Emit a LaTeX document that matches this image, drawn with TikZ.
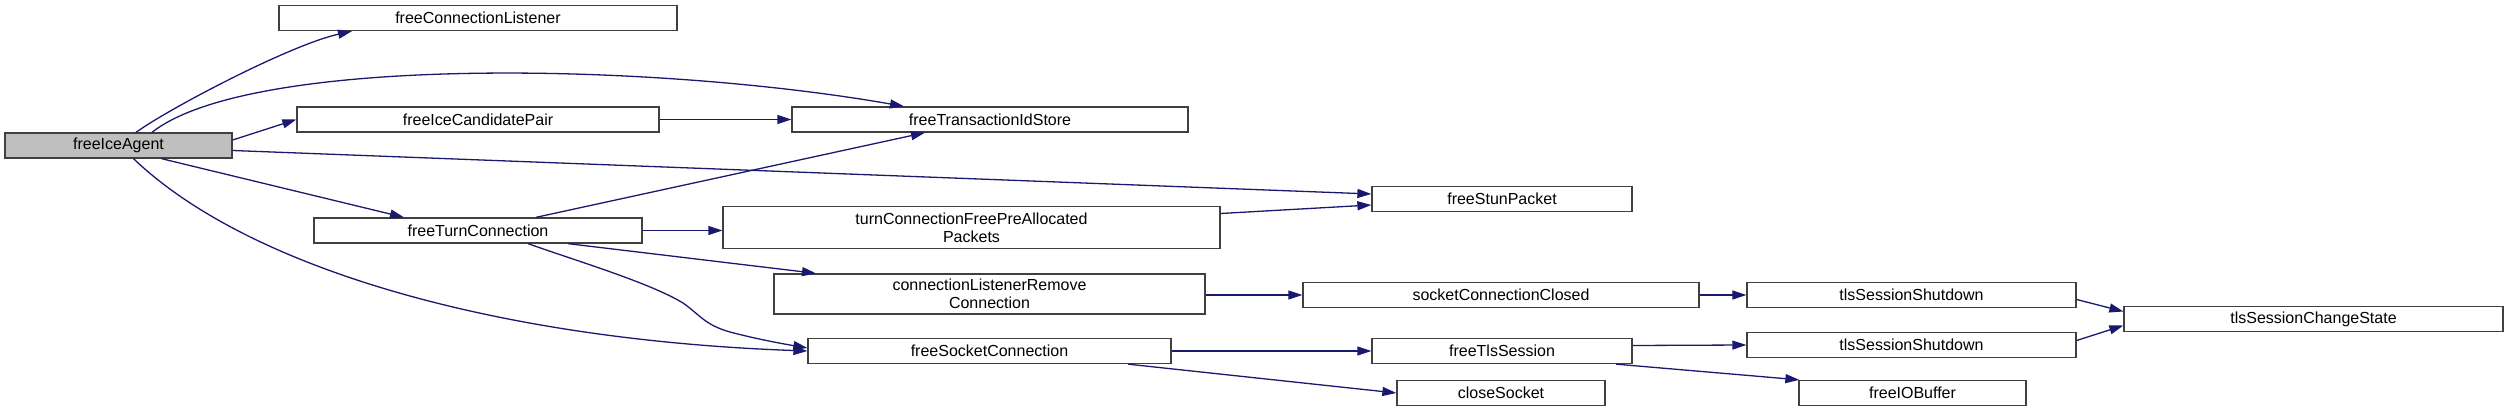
\documentclass[tikz,border=0pt]{standalone}
\usepackage{fontspec}
\setmainfont{Liberation Sans}
\usetikzlibrary{arrows.meta}
\definecolor{edgeblue}{HTML}{191970}
\definecolor{boxline}{HTML}{404040}
\begin{document}
\begin{tikzpicture}[x=1pt,y=-1pt,
  fn/.style={draw=boxline, line width=1.3pt, fill=white, minimum height=25pt, inner sep=2pt, align=center, font=\fontsize{16}{18}\selectfont},
  root/.style={fn, fill=black!25},
  call/.style={draw=edgeblue, line width=1.3pt, -{Triangle[length=14pt,width=9pt]}}]
\useasboundingbox (0,0) rectangle (2508,419);
% nodes
\node[root, minimum width=227pt] (ag) at (118.5,145.5) {freeIceAgent};
\node[fn, minimum width=398pt] (cl) at (478,18) {freeConnectionListener};
\node[fn, minimum width=362pt] (cp) at (478,119.5) {freeIceCandidatePair};
\node[fn, minimum width=396pt] (ts) at (990,119.5) {freeTransactionIdStore};
\node[fn, minimum width=260pt] (sp) at (1502,199) {freeStunPacket};
\node[fn, minimum width=328pt] (tc) at (478,230.5) {freeTurnConnection};
\node[fn, minimum width=497pt, minimum height=42pt] (tp) at (971.5,227.5) {turnConnectionFreePreAllocated\\Packets};
\node[fn, minimum width=431pt, minimum height=40pt] (lr) at (989.5,294) {connectionListenerRemove\\Connection};
\node[fn, minimum width=396pt] (sc) at (1501,295) {socketConnectionClosed};
\node[fn, minimum width=329pt] (t1) at (1911.5,295) {tlsSessionShutdown};
\node[fn, minimum width=379pt] (cs) at (2313.5,319) {tlsSessionChangeState};
\node[fn, minimum width=363pt] (fs) at (989.5,351) {freeSocketConnection};
\node[fn, minimum width=260pt] (tl) at (1502,351) {freeTlsSession};
\node[fn, minimum width=329pt] (t2) at (1911.5,345) {tlsSessionShutdown};
\node[fn, minimum width=208pt] (ck) at (1501,393) {closeSocket};
\node[fn, minimum width=227pt] (io) at (1912.5,393) {freeIOBuffer};
% edges
\draw[call] ([xshift=17.5pt]ag.north) .. controls (170,108) and (290,45) .. ([xshift=-126pt]cl.south);
\draw[call] ([xshift=33.5pt]ag.north) .. controls (250,55) and (650,62) .. ([xshift=-86pt]ts.north);
\draw[call] ([yshift=5.5pt]ag.east) -- (cp.west);
\draw[call] (cp.east) -- (ts.west);
\draw[call] ([yshift=-5pt]ag.east) -- ([yshift=5pt]sp.west);
\draw[call] ([xshift=43pt]ag.south) -- ([xshift=-74pt]tc.north);
\draw[call] ([xshift=15pt]ag.south) .. controls (250,270) and (500,340) .. (fs.west);
\draw[call] ([xshift=58pt]tc.north) -- ([xshift=-65pt]ts.south);
\draw[call] (tc.east) -- (tp.west |- tc.east);
\draw[call] ([yshift=14pt]tp.east) -- ([yshift=-6pt]sp.west);
\draw[call] ([xshift=90pt]tc.south) -- ([xshift=-173.5pt]lr.north);
\draw[call] ([xshift=50pt]tc.south) .. controls (580,262) and (650,283) .. (683,303) .. controls (700,315) and (705,325) .. (730,332) .. controls (760,340) and (790,345) .. ([yshift=3pt]fs.west);
\draw[call] (lr.east |- sc.west) -- (sc.west);
\draw[call] (sc.east) -- (t1.west);
\draw[call] ([yshift=-4.5pt]t1.east) -- ([yshift=7.5pt]cs.west);
\draw[call] (fs.east) -- (tl.west);
\draw[call] ([xshift=138.5pt]fs.south) -- (ck.west);
\draw[call] ([yshift=5.5pt]tl.east) -- (t2.west);
\draw[call] ([yshift=4.5pt]t2.east) -- ([yshift=-6.5pt]cs.west);
\draw[call] ([xshift=114pt]tl.south) -- ([xshift=1pt]io.north west);
\end{tikzpicture}
\end{document}
